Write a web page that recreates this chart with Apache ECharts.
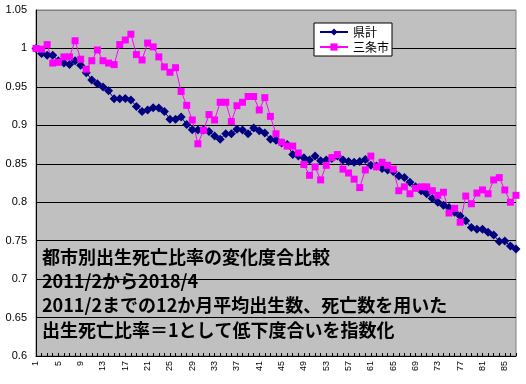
<!DOCTYPE html>
<html>
<head>
<meta charset="utf-8">
<script src="https://cdn.jsdelivr.net/npm/echarts@6/dist/echarts.min.js"></script>
<style>
html,body{margin:0;padding:0;background:#fff;}
#c{width:526px;height:384px;}
</style>
</head>
<body>
<div id="c"></div>
<script>
var categories = ['1','2','3','4','5','6','7','8','9','10','11','12','13','14','15','16','17','18','19','20',
'21','22','23','24','25','26','27','28','29','30','31','32','33','34','35','36','37','38','39','40',
'41','42','43','44','45','46','47','48','49','50','51','52','53','54','55','56','57','58','59','60',
'61','62','63','64','65','66','67','68','69','70','71','72','73','74','75','76','77','78','79','80',
'81','82','83','84','85','86','87'];

var kenkei = [1.000,0.9935,0.991,0.991,0.984,0.981,0.979,0.984,0.978,0.9685,
0.959,0.954,0.950,0.945,0.9345,0.9345,0.935,0.933,0.9245,0.918,
0.920,0.923,0.9225,0.918,0.908,0.908,0.911,0.901,0.8944,0.894,
0.894,0.892,0.886,0.882,0.889,0.889,0.895,0.894,0.889,0.8966,
0.893,0.890,0.882,0.8806,0.877,0.875,0.862,0.860,0.858,0.855,
0.860,0.854,0.855,0.857,0.860,0.855,0.853,0.852,0.853,0.8557,
0.848,0.847,0.844,0.842,0.840,0.834,0.832,0.826,0.820,0.815,
0.811,0.805,0.800,0.796,0.793,0.787,0.782,0.776,0.767,0.765,
0.765,0.761,0.7575,0.749,0.7495,0.743,0.739];

var sanjo = [1.000,0.999,1.005,0.981,0.982,0.989,0.989,1.010,0.986,0.973,
0.984,0.998,0.984,0.981,0.979,1.005,1.011,1.0185,0.992,0.985,
1.007,1.002,0.989,0.976,0.969,0.975,0.944,0.926,0.907,0.876,
0.8935,0.914,0.907,0.930,0.930,0.905,0.9255,0.930,0.9375,0.9375,
0.920,0.936,0.9116,0.889,0.878,0.873,0.873,0.864,0.849,0.835,
0.846,0.829,0.848,0.858,0.862,0.843,0.838,0.830,0.819,0.842,
0.860,0.846,0.852,0.848,0.843,0.815,0.820,0.811,0.818,0.820,
0.820,0.815,0.809,0.813,0.786,0.792,0.774,0.808,0.798,0.812,
0.816,0.811,0.829,0.832,0.816,0.800,0.809];

var seriesNames = ['県計','三条市'];
var noteLines = ['都市別出生死亡比率の変化度合比較','2011/2から2018/4','2011/2までの12か月平均出生数、死亡数を用いた','出生死亡比率＝1として低下度合いを指数化'];

var chart = echarts.init(document.getElementById('c'), null, {renderer:'canvas'});
var noteY = [260, 284.3, 308.6, 333];
var graphics = noteLines.map(function(t,i){
  return {type:'text', left:42, top:noteY[i]-12, z:100,
    style:{text:t, fill:'#000', font:'bold 18px "Noto Sans CJK JP"'}};
});
chart.setOption({
  animation:false,
  backgroundColor:'#fff',
  grid:{left:36,right:10,top:10,bottom:28,show:true,backgroundColor:'#C0C0C0',borderColor:'#808080',borderWidth:1},
  legend:{
    orient:'vertical', left:314, top:23,
    backgroundColor:'#fff', borderColor:'#000', borderWidth:1, borderRadius:0,
    padding:[3,3,3,5], itemGap:3, itemWidth:28, itemHeight:9,
    textStyle:{fontSize:12,color:'#000',fontFamily:'"Noto Sans CJK JP"'},
    data:seriesNames
  },
  xAxis:{
    type:'category', data:categories, boundaryGap:false,
    axisLine:{lineStyle:{color:'#000',width:1}},
    axisTick:{show:true,inside:true,length:3,interval:0,lineStyle:{color:'#000'}},
    axisLabel:{interval:3,rotate:90,fontSize:9,color:'#000',margin:5,fontFamily:'"Liberation Sans"'},
    splitLine:{show:false}
  },
  yAxis:{
    type:'value', min:0.6, max:1.05, interval:0.05,
    axisLine:{show:true,lineStyle:{color:'#000',width:1}},
    axisTick:{show:false},
    axisLabel:{fontSize:11,color:'#000',margin:9,fontFamily:'"Liberation Sans"'},
    splitLine:{show:true,lineStyle:{color:['#000','#000','#000','#000','#000','#000','#000','#000','#000','#808080'],width:1}}
  },
  graphic:graphics,
  series:[
    {name:seriesNames[0], type:'line', data:kenkei, symbol:'diamond', symbolSize:9, showAllSymbol:true,
     itemStyle:{color:'#000080'}, lineStyle:{color:'#000080',width:1}},
    {name:seriesNames[1], type:'line', data:sanjo, symbol:'rect', symbolSize:7, showAllSymbol:true,
     itemStyle:{color:'#FF00FF'}, lineStyle:{color:'#FF00FF',width:1}}
  ]
});
</script>
</body>
</html>
